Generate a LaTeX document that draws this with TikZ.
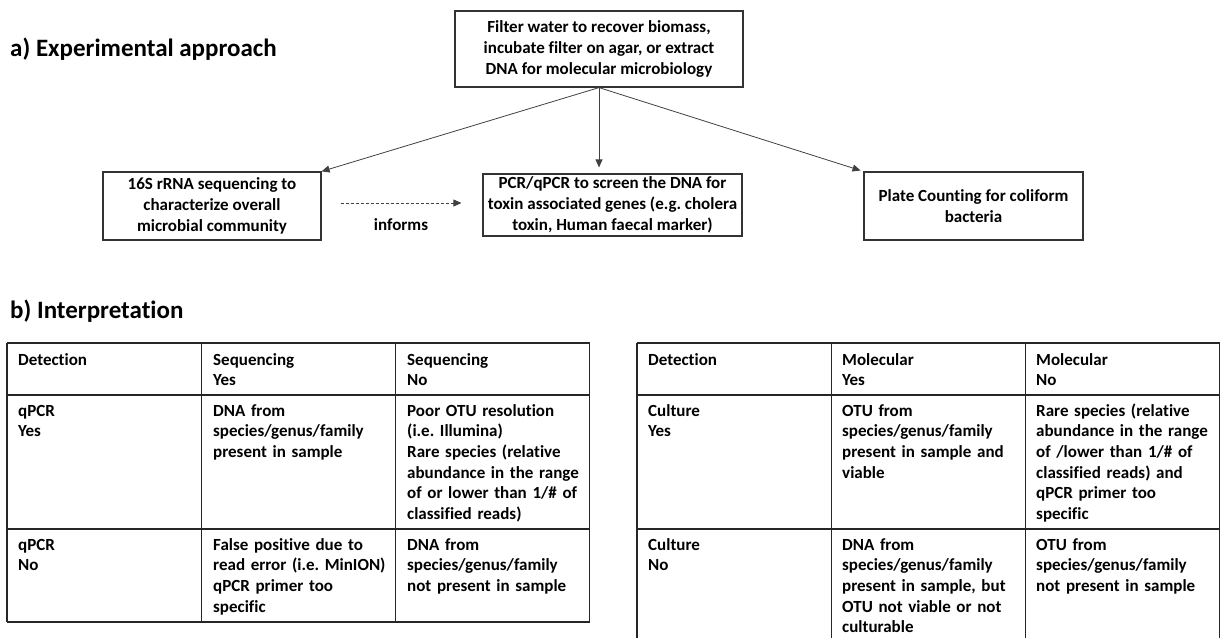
\documentclass[tikz,border=0pt]{standalone}
\usepackage{fontspec}
\setmainfont{Carlito}[Ligatures=NoCommon]
\usepackage{tikz}
\usetikzlibrary{calc}
\usetikzlibrary{arrows.meta}
\frenchspacing
\tikzset{
  every node/.style = {font = \bfseries\fontsize{17}{20.7}\selectfont}
}
\tikzset{
  approach box/.style = {draw=black!80, line width=1.2pt, align=center, inner sep=0pt},
  link/.style = {->, draw=black!75, line width=0.8pt},
  informs link/.style = {link, dash pattern=on 3pt off 2pt},
  grid line/.style = {line width=1.4pt, draw=black!85},
  cell/.style = {anchor=base west, text width=180pt, align=left, inner sep=0pt},
  title/.style = {anchor=base west, inner sep=0pt, font=\bfseries\fontsize{25}{30}\selectfont}
}
\tikzset{
    >={Triangle[length=8pt,width=7pt]}
}
% #1 = left edge, #2 = lower end of the column lines
\newcommand{\tablegrid}[2]{
  \draw[grid line] (#1,-343) -- ({#1+582.5},-343);
  \draw[grid line] (#1,-395) -- ({#1+582.5},-395);
  \draw[grid line] (#1,-529) -- ({#1+582.5},-529);
  \foreach \dx in {0,194.5,388.5,582.5}
    \draw[grid line] ({#1+\dx},-343) -- ({#1+\dx},#2);
}

\begin{document}
\begin{tikzpicture}[x=1pt, y=1pt]
  \useasboundingbox (0,0) rectangle (1222,-638);

  % a) experimental approach
  \node[title] (ta) at (10,-56) {a) Experimental approach};

  \node[approach box, minimum width=288pt, minimum height=76pt] (src) at (599,-49)
    {Filter water to recover biomass,\\incubate filter on agar, or extract\\DNA for molecular microbiology};
  \node[approach box, minimum width=218pt, minimum height=68pt] (seq) at (212,-206)
    {16S rRNA sequencing to\\characterize overall\\microbial community};
  \node[approach box, minimum width=259pt, minimum height=62pt] (pcr) at (612.5,-205)
    {PCR/qPCR to screen the DNA for\\toxin associated genes (e.g. cholera\\toxin, Human faecal marker)};
  \node[approach box, minimum width=219pt, minimum height=68pt] (plate) at (973.5,-206)
    {Plate Counting for coliform\\bacteria};

  \draw[link] (src.south) -- (seq.north east);
  \draw[link, shorten >=6pt] (src.south) -- (src.south |- pcr.north);
  \draw[link, shorten >=3pt] (src.south) -- (plate.north west);

  \draw[informs link] ([xshift=19pt,yshift=3pt]seq.east) -- ([xshift=-21pt,yshift=2pt]pcr.west)
    node[midway, anchor=base, yshift=-27pt, inner sep=0pt] (inf) {informs};

  % b) interpretation
  \node[title] (tb) at (10,-318) {b) Interpretation};

  \tablegrid{7}{-622}
  \draw[grid line] (7,-622) -- (589.5,-622);
  \tablegrid{637}{-638}

  \node[cell] (sdet) at (18,-365) {Detection};
  \node[cell] (sseqy) at (213,-365) {Sequencing\\Yes};
  \node[cell] (sseqn) at (407,-365) {Sequencing\\No};
  \node[cell] (sqy) at (18,-416) {qPCR\\Yes};
  \node[cell] (syy) at (213,-416) {DNA from\\species/genus/family\\present in sample};
  \node[cell] (syn) at (407,-416) {Poor OTU resolution\\(i.e. Illumina)\\Rare species (relative\\abundance in the range\\of or lower than 1/\# of\\classified reads)};
  \node[cell] (sqn) at (18,-550) {qPCR\\No};
  \node[cell] (sny) at (213,-550) {False positive due to\\read error (i.e. MinION)\\qPCR primer too\\specific};
  \node[cell] (snn) at (407,-550) {DNA from\\species/genus/family\\not present in sample};

  \node[cell] (mdet) at (648,-365) {Detection};
  \node[cell] (mmoly) at (842,-365) {Molecular\\Yes};
  \node[cell] (mmoln) at (1036,-365) {Molecular\\No};
  \node[cell] (mcy) at (648,-416) {Culture\\Yes};
  \node[cell] (myy) at (842,-416) {OTU from\\species/genus/family\\present in sample and\\viable};
  \node[cell] (myn) at (1036,-416) {Rare species (relative\\abundance in the range\\of /lower than 1/\# of\\classified reads) and\\qPCR primer too\\specific};
  \node[cell] (mcn) at (648,-550) {Culture\\No};
  \node[cell] (mny) at (842,-550) {DNA from\\species/genus/family\\present in sample, but\\OTU not viable or not\\culturable};
  \node[cell] (mnn) at (1036,-550) {OTU from\\species/genus/family\\not present in sample};
\end{tikzpicture}
\end{document}
